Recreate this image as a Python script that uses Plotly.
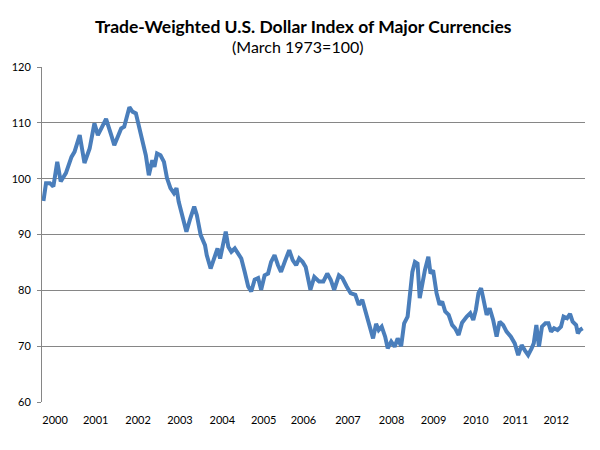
import plotly.graph_objects as go

# Decimal-year positions and index values
years = [2000.01, 2000.07, 2000.16, 2000.24, 2000.33, 2000.41, 2000.53, 2000.66, 2000.73, 2000.85,
         2000.96, 2001.08, 2001.19, 2001.27, 2001.35, 2001.46, 2001.58, 2001.65, 2001.81, 2001.88,
         2002.00, 2002.07, 2002.15, 2002.22, 2002.30, 2002.38, 2002.45, 2002.53, 2002.58, 2002.64,
         2002.72, 2002.80, 2002.87, 2002.95, 2003.03, 2003.09, 2003.14, 2003.24, 2003.32, 2003.41,
         2003.50, 2003.56, 2003.65, 2003.75, 2003.79, 2003.88, 2003.98, 2004.04, 2004.10, 2004.17,
         2004.23, 2004.29, 2004.36, 2004.44, 2004.52, 2004.59, 2004.67, 2004.75, 2004.82, 2004.90,
         2004.98, 2005.05, 2005.13, 2005.21, 2005.28, 2005.36, 2005.44, 2005.51, 2005.61, 2005.70,
         2005.78, 2005.86, 2005.93, 2006.01, 2006.08, 2006.19, 2006.28, 2006.39, 2006.49, 2006.58,
         2006.66, 2006.74, 2006.85, 2006.93, 2007.03, 2007.12, 2007.23, 2007.31, 2007.39, 2007.46,
         2007.54, 2007.64, 2007.71, 2007.77, 2007.84, 2007.92, 2007.98, 2008.06, 2008.14, 2008.21,
         2008.29, 2008.36, 2008.44, 2008.49, 2008.55, 2008.61, 2008.67, 2008.72, 2008.78, 2008.84,
         2008.92, 2008.97, 2009.03, 2009.11, 2009.18, 2009.24, 2009.31, 2009.39, 2009.47, 2009.54,
         2009.62, 2009.70, 2009.81, 2009.89, 2009.96, 2010.02, 2010.08, 2010.14, 2010.19, 2010.27,
         2010.34, 2010.42, 2010.50, 2010.57, 2010.65, 2010.73, 2010.83, 2010.92, 2011.00, 2011.08,
         2011.15, 2011.23, 2011.31, 2011.36, 2011.42, 2011.48, 2011.55, 2011.63, 2011.70, 2011.76,
         2011.83, 2011.91, 2011.99, 2012.05, 2012.13, 2012.20, 2012.26, 2012.34, 2012.38, 2012.43,
         2012.49]

index_values = [96.0, 99.2, 99.2, 98.6, 103.0, 99.5, 101.0, 103.9, 104.8, 107.8,
                102.8, 105.4, 109.9, 107.8, 109.0, 110.7, 107.8, 106.0, 109.0, 109.3,
                112.8, 112.0, 111.7, 109.6, 106.6, 104.2, 100.6, 103.3, 102.1, 104.5,
                104.2, 103.0, 100.1, 98.3, 97.4, 98.3, 95.9, 92.9, 90.5, 92.9,
                95.0, 93.5, 89.9, 88.1, 86.3, 83.9, 86.3, 87.5, 85.7, 88.7,
                90.5, 87.8, 86.9, 87.5, 86.6, 85.7, 83.3, 80.7, 79.8, 81.9,
                82.2, 80.1, 82.7, 83.0, 85.1, 86.3, 84.5, 83.3, 85.4, 87.2,
                85.4, 84.5, 85.7, 85.1, 84.2, 80.1, 82.4, 81.6, 81.6, 83.0,
                81.9, 80.1, 82.7, 82.2, 80.7, 79.5, 79.2, 77.4, 78.3, 76.5,
                74.4, 71.4, 74.0, 72.9, 73.5, 71.7, 69.6, 70.8, 69.9, 71.4,
                70.0, 74.1, 75.3, 78.9, 83.3, 85.1, 84.8, 78.6, 81.3, 83.6,
                86.0, 83.0, 83.6, 79.5, 77.4, 78.0, 76.2, 75.6, 73.8, 73.2,
                72.0, 74.2, 75.3, 75.9, 74.7, 76.5, 79.5, 80.4, 78.6, 75.6,
                76.8, 74.7, 71.7, 74.4, 73.8, 72.6, 71.7, 70.5, 68.4, 70.2,
                69.3, 68.4, 69.6, 70.5, 73.8, 69.9, 73.5, 74.1, 74.1, 72.6,
                73.2, 72.9, 73.5, 75.3, 75.0, 75.8, 74.4, 73.8, 72.3, 72.9,
                73.2]

tick_positions = [2000.28, 2001.22, 2002.20, 2003.17, 2004.15, 2005.11, 2006.03,
                  2007.06, 2008.07, 2009.04, 2010.02, 2010.94, 2011.88]
tick_labels = ["2000", "2001", "2002", "2003", "2004", "2005", "2006",
               "2007", "2008", "2009", "2010", "2011", "2012"]

title_text = "Trade-Weighted U.S. Dollar Index of Major Currencies"
subtitle_text = "(March 1973=100)"

fig = go.Figure()
fig.add_trace(go.Scatter(
    x=years, y=index_values, mode="lines",
    line=dict(color="#4a7ebb", width=4),
    hoverinfo="skip", showlegend=False,
))

fig.update_layout(
    width=600, height=450,
    margin=dict(l=37, r=15, t=67, b=48),
    paper_bgcolor="white", plot_bgcolor="white",
    font=dict(family="Lato, Liberation Sans, sans-serif", color="#000000", size=11),
    annotations=[
        dict(text="<b>" + title_text + "</b>", x=0.482, y=1.122, xref="paper", yref="paper",
             xanchor="center", yanchor="middle", showarrow=False,
             font=dict(family="Lato, sans-serif", size=17.5, color="#000000")),
        dict(text=subtitle_text, x=0.471, y=1.06, xref="paper", yref="paper",
             xanchor="center", yanchor="middle", showarrow=False,
             font=dict(family="Lato, sans-serif", size=16, color="#000000")),
    ],
)

fig.update_xaxes(
    range=[1999.977, 2012.546],
    tickmode="array", tickvals=tick_positions, ticktext=tick_labels,
    showgrid=False, zeroline=False,
    showline=False, ticks="", ticklabelstandoff=10,
    tickfont=dict(size=11, color="#000000"),
)
fig.update_yaxes(
    range=[60, 120], dtick=10, tick0=60,
    showgrid=True, gridcolor="#868686", gridwidth=1,
    zeroline=False,
    showline=True, linecolor="#868686", linewidth=1,
    ticks="outside", ticklen=4, tickcolor="#868686",
    ticklabelstandoff=4,
    tickfont=dict(size=11, color="#000000"),
)

fig.write_html("out.html")
